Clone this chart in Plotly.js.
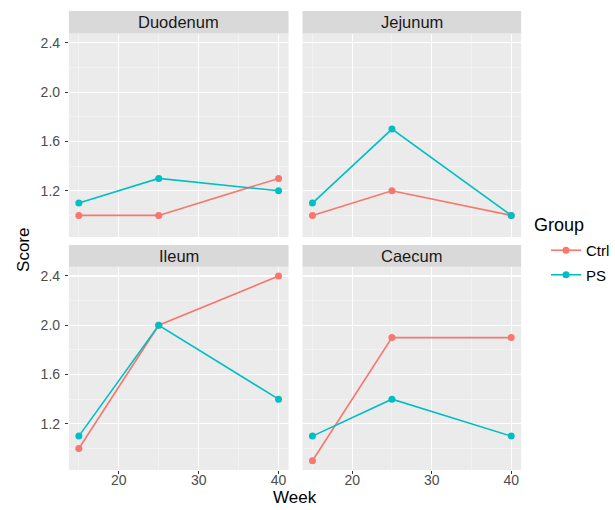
<!DOCTYPE html>
<html>
<head>
<meta charset="utf-8">
<script src="https://cdn.plot.ly/plotly-3.0.1.min.js"></script>
<style>html,body{margin:0;padding:0;background:#fff;}</style>
</head>
<body>
<div id="chart" style="width:615px;height:510px;"></div>
<script>
const weeks = [15, 25, 40];
const panels = ["Duodenum", "Jejunum", "Ileum", "Caecum"];
const ctrlDuodenum = [1.0, 1.0, 1.3];
const psDuodenum   = [1.1, 1.3, 1.2];
const ctrlJejunum  = [1.0, 1.2, 1.0];
const psJejunum    = [1.1, 1.7, 1.0];
const ctrlIleum    = [1.0, 2.0, 2.4];
const psIleum      = [1.1, 2.0, 1.4];
const ctrlCaecum   = [0.9, 1.9, 1.9];
const psCaecum     = [1.1, 1.4, 1.1];
const groups = ["Ctrl", "PS"];
const yTicks = [1.2, 1.6, 2.0, 2.4];
const xTicks = [20, 30, 40];

const ctrlSeries = [ctrlDuodenum, ctrlJejunum, ctrlIleum, ctrlCaecum];
const psSeries = [psDuodenum, psJejunum, psIleum, psCaecum];
const colors = {Ctrl: "#F8766D", PS: "#00BFC4"};
const FONT = "Liberation Sans, Arial, sans-serif";

const traces = [];
for (let i = 0; i < 4; i++) {
  const ax = i === 0 ? "" : String(i + 1);
  [[groups[0], ctrlSeries[i]], [groups[1], psSeries[i]]].forEach(([g, vals]) => {
    traces.push({
      x: weeks, y: vals, type: "scatter", mode: "lines+markers",
      name: g, legendgroup: g, showlegend: i === 0,
      xaxis: "x" + ax, yaxis: "y" + ax,
      line: {color: colors[g], width: 1.6},
      marker: {color: colors[g], size: 7}
    });
  });
}

const W = 615, H = 510;
const xDom = [[69 / W, 289 / W], [303 / W, 522 / W]];
const yDom = [[1 - 237 / H, 1 - 33.5 / H], [1 - 470 / H, 1 - 266.75 / H]];
const xRange = [13.75, 41.25];
const yRange = [0.825, 2.475];

function xAxis(col, row, anchor) {
  return {
    domain: xDom[col], range: xRange, anchor: anchor,
    tickvals: xTicks, ticktext: xTicks.map(String),
    showticklabels: row === 1, ticks: row === 1 ? "outside" : "",
    ticklen: 3, tickcolor: "#333333", tickwidth: 1,
    ticklabelstandoff: -6,
    tickfont: {family: FONT, size: 14, color: "#4D4D4D"},
    showgrid: true, gridcolor: "#FFFFFF", gridwidth: 1.1,
    minor: {tickvals: [15, 25, 35], showgrid: true, gridcolor: "#F7F7F7", gridwidth: 0.6, ticks: ""},
    zeroline: false, showline: false, fixedrange: true
  };
}
function yAxis(col, row, anchor) {
  return {
    domain: yDom[row], range: yRange, anchor: anchor,
    tickvals: yTicks, ticktext: yTicks.map(v => v.toFixed(1)),
    showticklabels: col === 0, ticks: col === 0 ? "outside" : "",
    ticklen: 3, tickcolor: "#333333", tickwidth: 1,
    ticklabelstandoff: 2,
    tickfont: {family: FONT, size: 14, color: "#4D4D4D"},
    showgrid: true, gridcolor: "#FFFFFF", gridwidth: 1.1,
    minor: {tickvals: [1.0, 1.4, 1.8, 2.2], showgrid: true, gridcolor: "#F7F7F7", gridwidth: 0.6, ticks: ""},
    zeroline: false, showline: false, fixedrange: true
  };
}

const layout = {
  width: W, height: H,
  margin: {l: 0, r: 0, t: 0, b: 0},
  paper_bgcolor: "#FFFFFF", plot_bgcolor: "#EBEBEB",
  font: {family: FONT, color: "#000"},
  xaxis: xAxis(0, 0, "y"), yaxis: yAxis(0, 0, "x"),
  xaxis2: xAxis(1, 0, "y2"), yaxis2: yAxis(1, 0, "x2"),
  xaxis3: xAxis(0, 1, "y3"), yaxis3: yAxis(0, 1, "x3"),
  xaxis4: xAxis(1, 1, "y4"), yaxis4: yAxis(1, 1, "x4"),
  showlegend: true,
  legend: {
    x: 547 / W, y: 1 - 234 / H, xanchor: "left", yanchor: "top",
    font: {family: FONT, size: 15, color: "#000"},
    bgcolor: "rgba(0,0,0,0)", tracegroupgap: 2, itemwidth: 30
  },
  shapes: [],
  annotations: [
    {text: "Score", x: 23 / W, y: 1 - 250 / H, xref: "paper", yref: "paper", showarrow: false,
     xanchor: "center", yanchor: "middle", textangle: -90, font: {family: FONT, size: 17, color: "#000"}},
    {text: "Week", x: 295.5 / W, y: 1 - 497 / H, xref: "paper", yref: "paper", showarrow: false,
     xanchor: "center", yanchor: "middle", font: {family: FONT, size: 17, color: "#000"}},
    {text: "Group", x: 533 / W, y: 1 - 225 / H, xref: "paper", yref: "paper", showarrow: false,
     xanchor: "left", yanchor: "middle", font: {family: FONT, size: 18, color: "#000"}}
  ]
};

const stripY = [[11, 33.5], [245, 266.75]];
for (let i = 0; i < 4; i++) {
  const col = i % 2, row = Math.floor(i / 2);
  layout.shapes.push({
    type: "rect", xref: "paper", yref: "paper",
    x0: xDom[col][0], x1: xDom[col][1],
    y0: 1 - stripY[row][1] / H, y1: 1 - stripY[row][0] / H,
    fillcolor: "#D9D9D9", line: {width: 0}, layer: "below"
  });
  layout.annotations.push({
    text: panels[i], xref: "paper", yref: "paper",
    x: (xDom[col][0] + xDom[col][1]) / 2,
    y: 1 - (stripY[row][0] + stripY[row][1]) / 2 / H,
    xanchor: "center", yanchor: "middle",
    showarrow: false, font: {family: FONT, size: 16.5, color: "#1A1A1A"}
  });
}

Plotly.newPlot("chart", traces, layout, {displayModeBar: false, staticPlot: true});
</script>
</body>
</html>
